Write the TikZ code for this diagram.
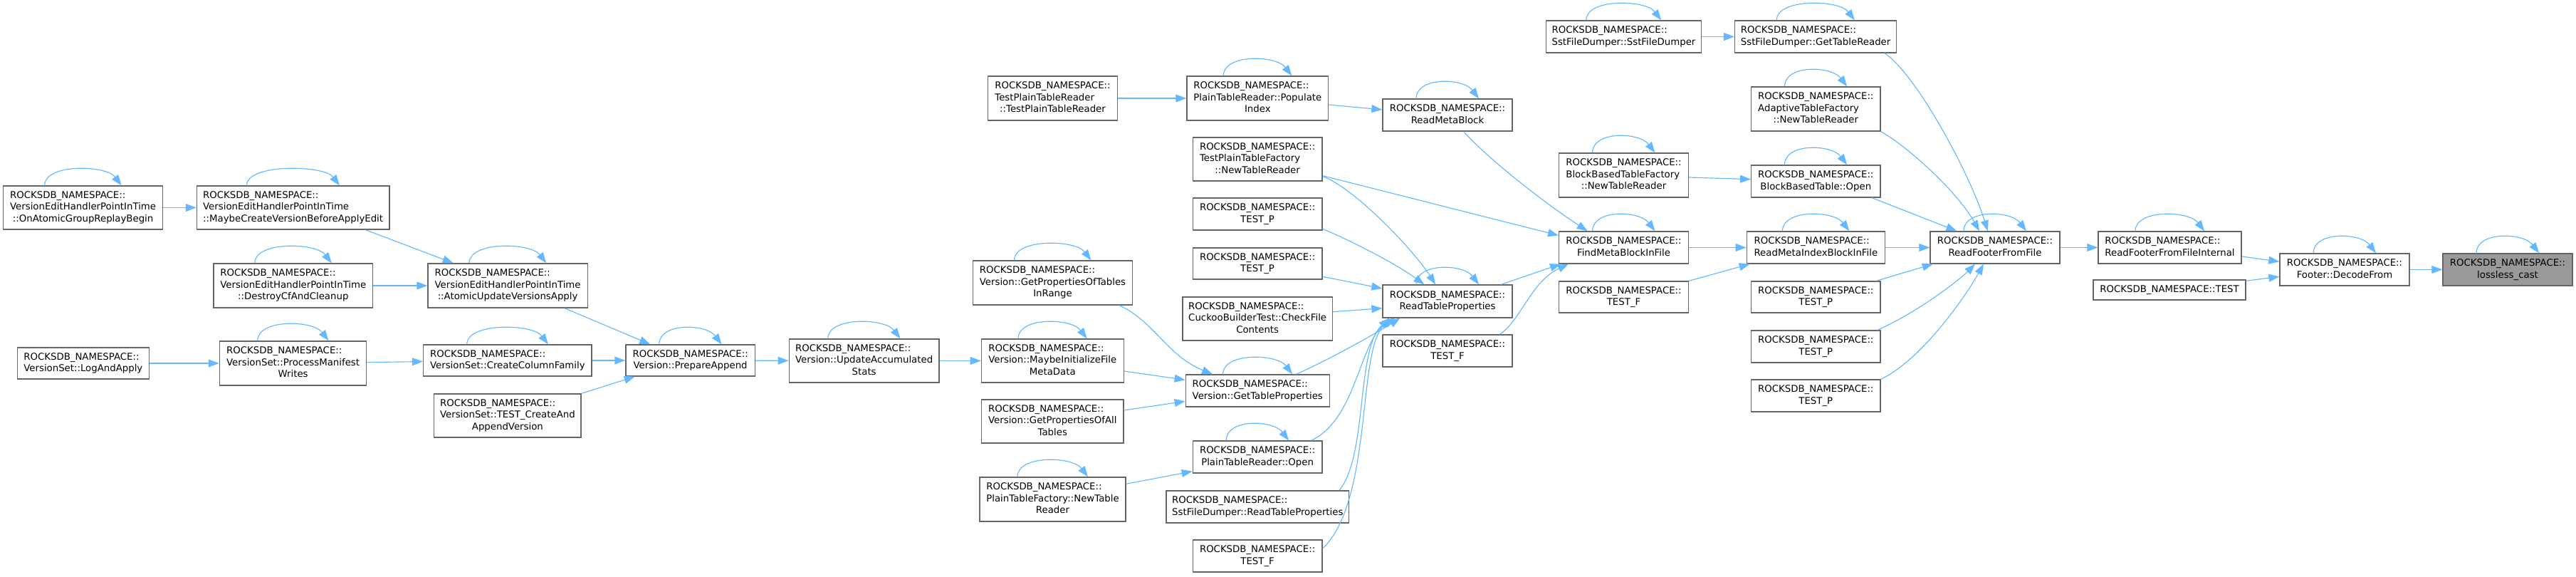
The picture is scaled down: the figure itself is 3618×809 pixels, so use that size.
\documentclass[tikz,border=0pt]{standalone}
\usepackage{fontspec}
\setmainfont{DejaVu Sans}
\usetikzlibrary{arrows.meta,calc}
\definecolor{edgec}{HTML}{63B8FF}
\definecolor{boxc}{HTML}{666666}
\definecolor{hlc}{HTML}{999999}
\newcommand{\tl}[2]{\begin{tabular}{@{}l@{}}#1\\\multicolumn{1}{@{}c@{}}{#2}\end{tabular}}
\newcommand{\RN}{ROCKSDB\_NAMESPACE::}
\newcommand{\VE}{VersionEditHandlerPointInTime}
\newcommand{\bx}[7][]{\node[box,#1,minimum width={#5-#3},minimum height={#6-#4}] (#2) at ({(#3+#5)/2},{(#4+#6)/2}) {#7};}
\newcommand{\selfloop}[1]{\draw[conn] ($(#1.north west)!0.26!(#1.north east)$) .. controls +(0,-31) and +(-22,-29) .. ($(#1.north west)!0.74!(#1.north east)$);}
\begin{document}
\begin{tikzpicture}[x=1pt,y=-1pt,
  font=\fontsize{13.3}{16.5}\selectfont,
  box/.style={draw=boxc,line width=1.3pt,fill=white,inner sep=0pt,text=black},
  conn/.style={draw=edgec,line width=1.15pt,-{Triangle[length=15pt,width=11pt]}}]
\useasboundingbox (0,0) rectangle (3618,809);

\bx{oag}{4.7}{261}{228.5}{322}{\tl{\RN\\\VE}{::OnAtomicGroupReplayBegin}}
\bx{mcv}{276.4}{261}{546.9}{322}{\tl{\RN\\\VE}{::MaybeCreateVersionBeforeApplyEdit}}
\bx{dcf}{300.1}{370}{523.5}{432}{\tl{\RN\\\VE}{::DestroyCfAndCleanup}}
\bx{auv}{601}{370}{825.2}{432}{\tl{\RN\\\VE}{::AtomicUpdateVersionsApply}}
\bx{laa}{24.5}{488}{209.2}{532}{\tl{\RN}{VersionSet::LogAndApply}}
\bx{pmw}{308.4}{479}{514.8}{541}{\tl{\RN\\VersionSet::ProcessManifest}{Writes}}
\bx{ccf}{594.6}{484}{831.1}{528}{\tl{\RN}{VersionSet::CreateColumnFamily}}
\bx{tcav}{609.7}{553}{816.1}{614}{\tl{\RN\\VersionSet::TEST\_CreateAnd}{AppendVersion}}
\bx{pa}{878.9}{484}{1060.4}{528}{\tl{\RN}{Version::PrepareAppend}}
\bx{uas}{1108.3}{476}{1319}{537}{\tl{\RN\\Version::UpdateAccumulated}{Stats}}
\bx{gptir}{1366.8}{366}{1590.2}{428}{\tl{\RN\\Version::GetPropertiesOfTables}{InRange}}
\bx{mifm}{1378.3}{476}{1578.3}{537}{\tl{\RN\\Version::MaybeInitializeFile}{MetaData}}
\bx{gpoat}{1378.7}{561}{1577.9}{622}{\tl{\RN\\Version::GetPropertiesOfAll}{Tables}}
\bx{ptfntr}{1375.9}{670}{1581.1}{732}{\tl{\RN\\PlainTableFactory::NewTable}{Reader}}
\bx{tptr}{1387.8}{107}{1569.2}{169}{\tl{\RN\\TestPlainTableReader}{::TestPlainTableReader}}
\bx{ppi}{1666.9}{107}{1865.7}{169}{\tl{\RN\\PlainTableReader::Populate}{Index}}
\bx{tptf}{1675.2}{193}{1857}{254}{\tl{\RN\\TestPlainTableFactory}{::NewTableReader}}
\bx{tp1}{1675.2}{278}{1857}{323}{\tl{\RN}{TEST\_P}}
\bx{tp2}{1675.2}{348}{1857}{392}{\tl{\RN}{TEST\_P}}
\bx{cfc}{1661}{417}{1871.3}{478}{\tl{\RN\\CuckooBuilderTest::CheckFile}{Contents}}
\bx{gtp}{1665.3}{526}{1867.3}{571}{\tl{\RN}{Version::GetTableProperties}}
\bx{ptro}{1675.2}{619}{1857}{664}{\tl{\RN}{PlainTableReader::Open}}
\bx{sfdrtp}{1638}{689}{1894.6}{734}{\tl{\RN}{SstFileDumper::ReadTableProperties}}
\bx{tfb}{1675.2}{758}{1857}{803}{\tl{\RN}{TEST\_F}}
\bx{rmb}{1942}{139}{2124}{184}{\tl{\RN}{ReadMetaBlock}}
\bx{rtp}{1942}{400}{2124}{446}{\tl{\RN}{ReadTableProperties}}
\bx{tfu}{1942}{470}{2124}{515}{\tl{\RN}{TEST\_F}}
\bx{sfd}{2171.4}{29}{2389.6}{74}{\tl{\RN}{SstFileDumper::SstFileDumper}}
\bx{bbtf}{2189.6}{215}{2371.4}{277}{\tl{\RN\\BlockBasedTableFactory}{::NewTableReader}}
\bx{fmb}{2189.6}{325}{2371.4}{370}{\tl{\RN}{FindMetaBlockInFile}}
\bx{tfm}{2189.6}{395}{2371.4}{439}{\tl{\RN}{TEST\_F}}
\bx{gtr}{2436.6}{29}{2663.6}{74}{\tl{\RN}{SstFileDumper::GetTableReader}}
\bx{atf}{2459.6}{122}{2641}{184}{\tl{\RN\\AdaptiveTableFactory}{::NewTableReader}}
\bx{bbto}{2459.6}{232}{2641}{277}{\tl{\RN}{BlockBasedTable::Open}}
\bx{rmib}{2453.3}{325}{2647.4}{370}{\tl{\RN}{ReadMetaIndexBlockInFile}}
\bx{rff}{2711}{325}{2893}{370}{\tl{\RN}{ReadFooterFromFile}}
\bx{tpa}{2459.6}{395}{2641}{439}{\tl{\RN}{TEST\_P}}
\bx{tpb}{2459.6}{464}{2641}{509}{\tl{\RN}{TEST\_P}}
\bx{tpc}{2459.6}{533}{2641}{578}{\tl{\RN}{TEST\_P}}
\bx{rffi}{2947}{325}{3148}{370}{\tl{\RN}{ReadFooterFromFileInternal}}
\bx{tst}{2940}{393}{3154}{421}{ROCKSDB\_NAMESPACE::TEST}
\bx{dec}{3202}{356}{3384}{401}{\tl{\RN}{Footer::DecodeFrom}}
\bx[fill=hlc]{llc}{3431}{356}{3613}{401}{\tl{\RN}{lossless\_cast}}

\foreach \n in {oag,mcv,dcf,auv,pmw,ccf,pa,uas,gptir,mifm,ptfntr,gtp,ptro,ppi,rmb,rtp,fmb,sfd,bbtf,gtr,atf,bbto,rmib,rff,rffi,dec,llc} {\selfloop{\n}}

\draw[conn] (oag) -- (mcv);
\draw[conn] ([xshift=237.6pt]mcv.south west) -- ([xshift=36.3pt]auv.north west);
\draw[conn] (dcf) -- (auv);
\draw[conn] ([xshift=192.5pt]auv.south west) -- ([xshift=35pt]pa.north west);
\draw[conn] (laa) -- (pmw);
\draw[conn] (pmw) -- (ccf);
\draw[conn] (ccf) -- (pa);
\draw[conn] (tcav.north east) -- ([xshift=13.5pt]pa.south west);
\draw[conn] (pa) -- (uas);
\draw[conn] (uas) -- (mifm);
\draw[conn] ([xshift=-19pt]gptir.south east) .. controls +(49,22) and +(-64,-26) .. ([xshift=38.4pt]gtp.north west);
\draw[conn] ([yshift=-14.5pt]mifm.east) -- ([yshift=15.2pt]gtp.west);
\draw[conn] ([yshift=15.5pt]gpoat.east) -- ([yshift=-14.8pt]gtp.west);
\draw[conn] ([yshift=21.7pt]ptfntr.east) -- ([yshift=-20.2pt]ptro.west);
\draw[conn] (tptr) -- (ppi);
\draw[conn] ([yshift=-9pt]ppi.east) -- ([yshift=7.5pt]rmb.west);
\draw[conn] ([xshift=114.3pt]rmb.south west) .. controls +(40,44) and +(-55,-36) .. ([xshift=40.7pt]fmb.north west);
\draw[conn] ([yshift=8pt]tptf.south east) -- ([yshift=17pt]fmb.west);
\draw[conn] ([yshift=7pt]tptf.south east) .. controls +(43,15) and +(-32,-50) .. ([xshift=74.8pt]rtp.north west);
\draw[conn] ([yshift=-21pt]tp1.east) .. controls +(33,13) and +(-41,-30) .. ([xshift=59pt]rtp.north west);
\draw[conn] ([yshift=-18.3pt]tp2.east) -- ([yshift=18pt]rtp.west);
\draw[conn] ([yshift=9.8pt]cfc.east) -- ([yshift=-9.7pt]rtp.west);
\draw[conn] ([xshift=155.7pt]gtp.north west) .. controls +(45,-20) and +(-40,25) .. ([xshift=25pt]rtp.south west);
\draw[conn] ([xshift=167pt]ptro.north west) .. controls +(63,-29) and +(-47,34) .. ([xshift=15pt]rtp.south west);
\draw[conn] ([xshift=-14.2pt]sfdrtp.north east) .. controls +(40,-49) and +(-47,44) .. ([xshift=10pt]rtp.south west);
\draw[conn] ([yshift=10.5pt]tfb.east) .. controls +(73,-70) and +(-55,34) .. ([xshift=18pt]rtp.south west);
\draw[conn] ([xshift=-16.3pt]rtp.north east) -- ([xshift=3pt]fmb.south west);
\draw[conn] ([xshift=-18.3pt]tfu.north east) .. controls +(30,-20) and +(-53,25) .. ([xshift=14pt]fmb.south west);
\draw[conn] (sfd) -- (gtr);
\draw[conn] ([yshift=-3pt]bbtf.east) -- ([yshift=2.8pt]bbto.west);
\draw[conn] (fmb) -- (rmib);
\draw[conn] (tfm.north east) -- ([xshift=5pt]rmib.south west);
\draw[conn] ([xshift=-17.4pt]gtr.south east) .. controls +(45,30) and +(-25,-80) .. ([xshift=81.5pt]rff.north west);
\draw[conn] (atf.south east) .. controls +(39,22) and +(-31,-55) .. ([xshift=69.7pt]rff.north west);
\draw[conn] ([xshift=-12.6pt]bbto.south east) -- ([xshift=38pt]rff.north west);
\draw[conn] (rmib) -- (rff);
\draw[conn] ([xshift=-6.6pt]tpa.north east) -- ([xshift=4.4pt]rff.south west);
\draw[conn] ([xshift=-4.7pt]tpb.north east) .. controls +(54,-24) and +(-25,25) .. ([xshift=63.7pt]rff.south west);
\draw[conn] (tpc.north east) .. controls +(59,-28) and +(-22,40) .. ([xshift=75.6pt]rff.south west);
\draw[conn] (rff) -- (rffi);
\draw[conn] ([yshift=-12.5pt]rffi.east) -- ([yshift=11.2pt]dec.west);
\draw[conn] ([yshift=12.7pt]tst.east) -- ([yshift=-9.8pt]dec.west);
\draw[conn] (dec) -- (llc);
\end{tikzpicture}
\end{document}
